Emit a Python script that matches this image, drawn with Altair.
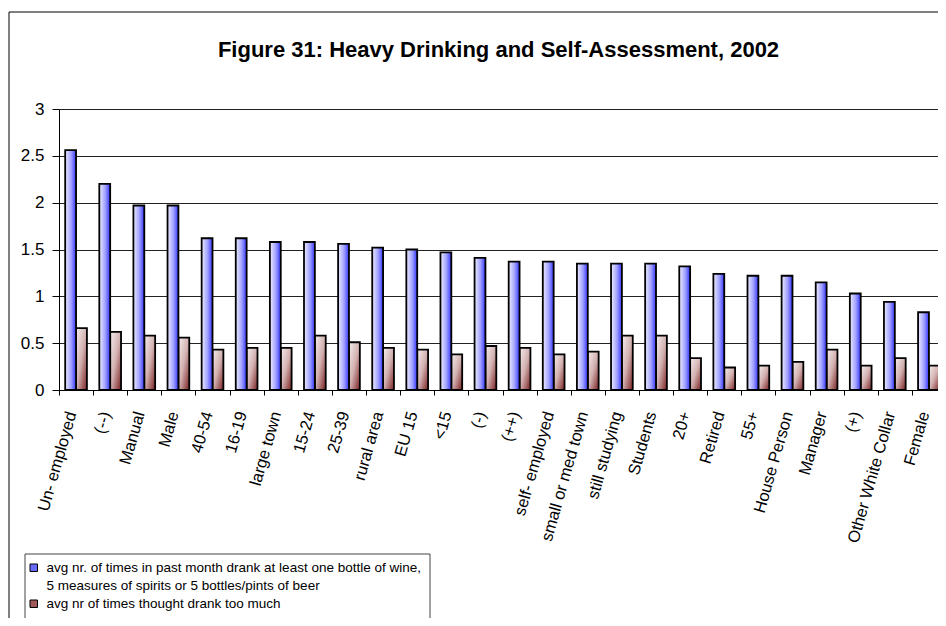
import altair as alt
import pandas as pd

# ---------------- data ----------------
categories = [
    "Un- employed", "(--)", "Manual", "Male", "40-54", "16-19", "large town",
    "15-24", "25-39", "rural area", "EU 15", "<15", "(-)", "(++)",
    "self- employed", "small or med town", "still studying", "Students", "20+",
    "Retired", "55+", "House Person", "Manager", "(+)", "Other White Collar",
    "Female",
]
heavy = [2.56, 2.20, 1.97, 1.97, 1.62, 1.62, 1.58, 1.58, 1.56, 1.52, 1.50, 1.47,
         1.41, 1.37, 1.37, 1.35, 1.35, 1.35, 1.32, 1.24, 1.22, 1.22, 1.15, 1.03,
         0.94, 0.83]
too_much = [0.66, 0.62, 0.58, 0.56, 0.43, 0.45, 0.45, 0.58, 0.51, 0.45, 0.43, 0.38,
            0.47, 0.45, 0.38, 0.41, 0.58, 0.58, 0.34, 0.24, 0.26, 0.30, 0.43, 0.26,
            0.34, 0.26]
series_keys = ["heavy", "too_much"]
legend_lines = [
    "avg nr. of times in past month drank at least one bottle of wine,",
    "5 measures of spirits or 5 bottles/pints of beer",
    "avg nr of times thought drank too much",
]
y_ticks = [0, 0.5, 1, 1.5, 2, 2.5, 3]
title_text = "Figure 31: Heavy Drinking and Self-Assessment, 2002"

rows = []
for c, h, t in zip(categories, heavy, too_much):
    rows.append({"category": c, "series": "heavy", "value": h})
    rows.append({"category": c, "series": "too_much", "value": t})
df = pd.DataFrame(rows)
leg_df = pd.DataFrame({"entry": legend_lines})
one = pd.DataFrame({"k": [0]})

FONT = "Liberation Sans"
PLOT_W = 879
BAND_RANGE = 887
PLOT_H = 281

x_enc = alt.X(
    "category:N",
    sort=categories,
    scale=alt.Scale(domain=categories, range=[0, BAND_RANGE], paddingInner=0, paddingOuter=0),
    axis=alt.Axis(
        title=None, labelAngle=286, labelAlign="right", labelBaseline="alphabetic",
        labelPadding=18, labelFontSize=16.5, labelFont=FONT, labelColor="black",
        tickBand="extent", tickSize=5, tickColor="black", domainColor="black",
        labelLimit=300, labelOverlap=False, grid=False,
    ),
)
xo_enc = alt.XOffset(
    "series:N",
    scale=alt.Scale(domain=series_keys, paddingInner=0, paddingOuter=0.57),
)
y_enc = alt.Y(
    "value:Q",
    scale=alt.Scale(domain=[0, 3], nice=False),
    axis=alt.Axis(
        values=y_ticks, format="~g", title=None, labelFontSize=17, labelFont=FONT,
        labelColor="black", tickSize=7, tickColor="black", domainColor="black",
        labelPadding=8, grid=True, gridColor="#222222", gridWidth=1,
    ),
)

blue_grad = alt.Gradient(
    gradient="linear",
    stops=[alt.GradientStop(color="#eeeeff", offset=0),
           alt.GradientStop(color="#a0a0ff", offset=0.55),
           alt.GradientStop(color="#3434ff", offset=1)],
    x1=0, x2=1, y1=0, y2=0,
)
red_grad = alt.Gradient(
    gradient="linear",
    stops=[alt.GradientStop(color="#f6eeee", offset=0),
           alt.GradientStop(color="#d2b0b0", offset=0.5),
           alt.GradientStop(color="#7a2020", offset=1)],
    x1=0, x2=1, y1=0, y2=1,
)

base = alt.Chart(df).encode(x=x_enc, xOffset=xo_enc, y=y_enc)
blue_df = base.transform_filter(alt.datum.series == "heavy")
red_df = base.transform_filter(alt.datum.series == "too_much")

red_shadow = red_df.mark_bar(color="#7a1010", xOffset=2.5)
red_bar = red_df.mark_bar(fill=red_grad, stroke="black", strokeWidth=1.8)
blue_shadow = blue_df.mark_bar(color="#1a1aff", xOffset=2.5)
blue_bar = blue_df.mark_bar(fill=blue_grad, stroke="black", strokeWidth=1.8)

legend_obj = alt.Legend(
    title=None, orient="none", legendX=-32, legendY=452, symbolType="square",
    symbolSize=56, symbolOpacity=1, symbolStrokeWidth=1, labelFont=FONT,
    labelFontSize=13.5, labelColor="black", labelLimit=600, rowPadding=3,
    padding=0, labelOffset=6,
)
carrier = alt.Chart(leg_df).mark_square(size=0, opacity=0).encode(
    fill=alt.Fill("entry:N", scale=alt.Scale(domain=legend_lines,
                  range=["#6a6aff", "rgba(0,0,0,0)", "#a05a5a"]), legend=legend_obj),
    stroke=alt.Stroke("entry:N", scale=alt.Scale(domain=legend_lines,
                      range=["#000000", "rgba(0,0,0,0)", "#000000"]), legend=legend_obj),
)

# chart-area frame (top and left edges; the rest lies outside the picture)
frame_top = alt.Chart(one).mark_rule(color="black", strokeWidth=1).encode(
    x=alt.value(-50), x2=alt.value(PLOT_W + 20), y=alt.value(-97)
)
frame_left = alt.Chart(one).mark_rule(color="black", strokeWidth=1).encode(
    x=alt.value(-50), y=alt.value(-97), y2=alt.value(PLOT_H + 240)
)
# legend frame (top, left, right)
leg_top = alt.Chart(one).mark_rule(color="#444444", strokeWidth=1).encode(
    x=alt.value(-34), x2=alt.value(371), y=alt.value(445)
)
leg_left = alt.Chart(one).mark_rule(color="#444444", strokeWidth=1).encode(
    x=alt.value(-34), y=alt.value(445), y2=alt.value(PLOT_H + 240)
)
leg_right = alt.Chart(one).mark_rule(color="#444444", strokeWidth=1).encode(
    x=alt.value(371), y=alt.value(445), y2=alt.value(PLOT_H + 240)
)

chart = alt.layer(
    frame_top, frame_left, leg_top, leg_left, leg_right,
    red_shadow, red_bar, blue_shadow, blue_bar, carrier
).properties(
    width=PLOT_W,
    height=PLOT_H,
    autosize=alt.AutoSizeParams(type="none"),
    padding={"left": 51, "top": 101, "right": 0, "bottom": 228},
    title=alt.Title(
        title_text, font=FONT, fontSize=22, fontWeight="bold", anchor="middle",
        baseline="alphabetic", offset=-67.5, color="black",
    ),
).configure_view(strokeWidth=0).configure(background="white")

chart.save("out.html", embed_options={"renderer": "svg", "actions": False})
